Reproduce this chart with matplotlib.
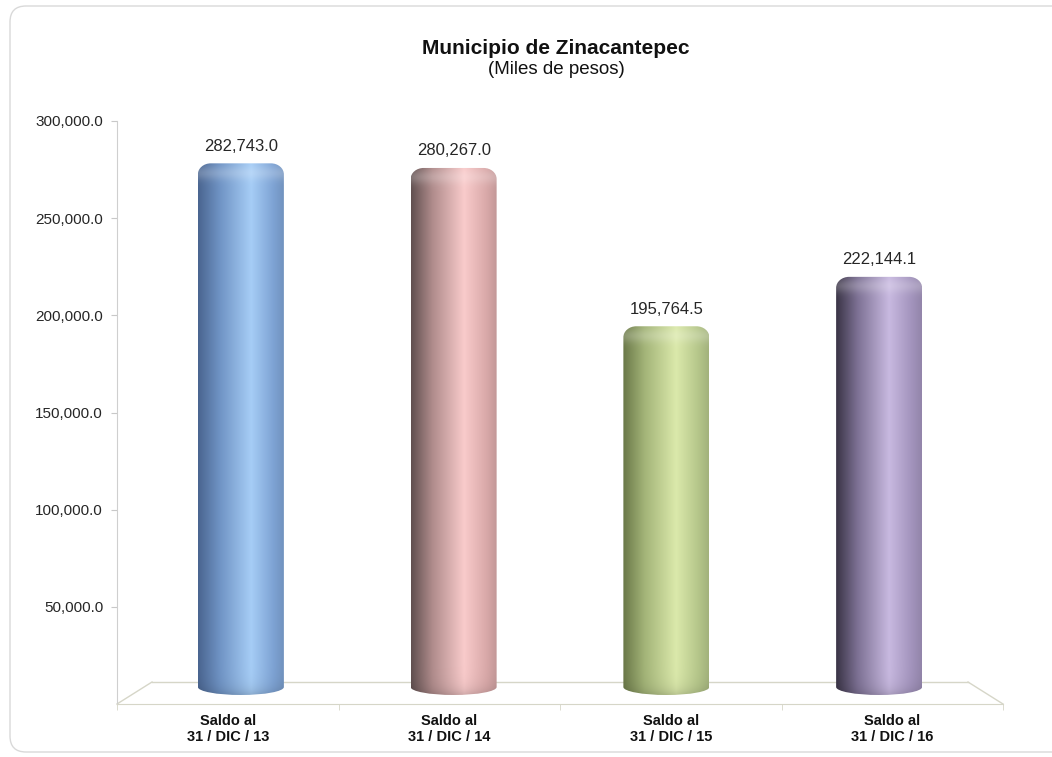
import numpy as np
import matplotlib
matplotlib.use("Agg")
from matplotlib import pyplot as plt
from matplotlib.patches import FancyBboxPatch, PathPatch
from matplotlib.path import Path
from matplotlib.lines import Line2D
from matplotlib.transforms import ScaledTranslation, IdentityTransform

plt.rcParams["font.family"] = ["Liberation Sans", "DejaVu Sans"]

# --- data ---
categories = ["Saldo al\n31 / DIC / 13", "Saldo al\n31 / DIC / 14",
              "Saldo al\n31 / DIC / 15", "Saldo al\n31 / DIC / 16"]
values = [282743.0, 280267.0, 195764.5, 222144.1]
yticks = [50000, 100000, 150000, 200000, 250000, 300000]

# (shadow edge, mid, highlight, right side) per cylinder
bar_colors = [
    ("#4a6590", "#6f93c4", "#a6cdf6", "#7ea3d4"),
    ("#615050", "#b08c8c", "#f9cbcb", "#d9a9a9"),
    ("#6a7848", "#a3b478", "#dbe9ab", "#b5c68a"),
    ("#3a3446", "#7d7194", "#c8b9e0", "#a394bd"),
]

W, H = 1052, 757
fig = plt.figure(figsize=(W / 100, H / 100), dpi=100)

# outer rounded frame
frame = FancyBboxPatch((10, 5), W + 20, H - 11, boxstyle="round,pad=0,rounding_size=16",
                       transform=IdentityTransform(), facecolor="none",
                       edgecolor="#d9d9d9", linewidth=1.0, zorder=-1)
fig.patches.append(frame)


def px(x0, y0, x1, y1):
    # pixel box (image coords, y down) -> figure fraction rect
    return [x0 / W, (H - y1) / H, (x1 - x0) / W, (y1 - y0) / H]


# front plane: axis, floor edge, labels
ax = fig.add_axes(px(117, 121, 1003, 704))
ax.set_facecolor("none")
ax.set_xlim(-0.5, len(values) - 0.5)
ax.set_ylim(0, 300000)
for s in ("top", "right"):
    ax.spines[s].set_visible(False)
ax.spines["left"].set_color("#cfcfcf")
ax.spines["bottom"].set_color("#d6d6c8")
ax.set_yticks(yticks)
ax.set_yticklabels([f"{v:,.1f}" for v in yticks], fontsize=11, color="#262626")
ax.tick_params(axis="y", length=4, color="#c8c8c8", pad=6)
ax.set_xticks(range(len(values)))
ax.set_xticklabels(categories, fontsize=10.5, fontweight="bold", color="#111111",
                   linespacing=1.2)
ax.tick_params(axis="x", length=0, pad=7)
ax.set_xticks(np.arange(-0.5, len(values)), minor=True)
ax.tick_params(axis="x", which="minor", length=4, color="#d6d6c8")

# 3D floor outline
dx, dy = 35 / 100, 22 / 100
back_l = ax.transAxes + ScaledTranslation(dx, dy, fig.dpi_scale_trans)
back_r = ax.transAxes + ScaledTranslation(-dx, dy, fig.dpi_scale_trans)
floor_c = "#d6d6c8"
for tr, xa in ((back_l, 0), (back_r, 1)):
    p0 = ax.transAxes.transform((xa, 0))
    p1 = tr.transform((xa, 0))
    fig.add_artist(Line2D([p0[0], p1[0]], [p0[1], p1[1]], transform=IdentityTransform(),
                          color=floor_c, lw=1.0, zorder=-0.5))
pa = back_l.transform((0, 0))
pb = back_r.transform((1, 0))
fig.add_artist(Line2D([pa[0], pb[0]], [pa[1], pb[1]], transform=IdentityTransform(),
                      color=floor_c, lw=1.0, zorder=-0.5))

# mid-depth plane: cylinders
ax2 = fig.add_axes(px(134.5, 131, 985.5, 693))
ax2.set_zorder(2)
ax2.set_xlim(-0.5, len(values) - 0.5)
ax2.set_ylim(0, 300000)
ax2.axis("off")

ux = 851 / len(values)          # px per x unit
uy = 562 / 300000               # px per y unit
bw = 86 / ux                    # bar width in data
rx_t, ry_t = 13 / ux, 11 / uy   # top corner rounding
b0 = 6 / uy                     # where the straight sides end
ry_b = 8 / uy                   # bottom ellipse depth
k = 0.5523


def cylinder_path(xc, top):
    x0, x1 = xc - bw / 2, xc + bw / 2
    h = bw / 2
    verts = [
        (x0, b0),
        (x0, top - ry_t),
        (x0, top - ry_t + k * ry_t), (x0 + rx_t - k * rx_t, top), (x0 + rx_t, top),
        (x1 - rx_t, top),
        (x1 - rx_t + k * rx_t, top), (x1, top - ry_t + k * ry_t), (x1, top - ry_t),
        (x1, b0),
        (x1, b0 - k * ry_b), (xc + k * h, b0 - ry_b), (xc, b0 - ry_b),
        (xc - k * h, b0 - ry_b), (x0, b0 - k * ry_b), (x0, b0),
        (x0, b0),
    ]
    codes = [Path.MOVETO, Path.LINETO,
             Path.CURVE4, Path.CURVE4, Path.CURVE4,
             Path.LINETO,
             Path.CURVE4, Path.CURVE4, Path.CURVE4,
             Path.LINETO,
             Path.CURVE4, Path.CURVE4, Path.CURVE4,
             Path.CURVE4, Path.CURVE4, Path.CURVE4,
             Path.CLOSEPOLY]
    return Path(verts, codes)


def hex2rgb(c):
    return np.array([int(c[i:i + 2], 16) for i in (1, 3, 5)]) / 255.0


def shade(cols, top, bottom):
    dark, mid, light, right = [hex2rgb(c) for c in cols]
    stops = [0.0, 0.25, 0.62, 0.88, 1.0]
    cs = [dark, mid, light, right, right * 0.9]
    nx, ny = 120, 300
    t = np.linspace(0, 1, nx)
    row = np.stack([np.interp(t, stops, [c[i] for c in cs]) for i in range(3)], axis=1)
    img = np.repeat(row[None, :, :], ny, axis=0)
    # light band under the top edge, slightly darker bottom
    ys = np.linspace(top, bottom, ny)
    dist_top = (top - ys) * uy
    band = np.exp(-((dist_top - 9) / 7) ** 2) * 0.2
    img = img + (1 - img) * band[:, None, None]
    dist_bot = (ys - bottom) * uy
    img = img * (1 - 0.15 * np.exp(-dist_bot / 7))[:, None, None]
    return np.clip(img, 0, 1)


for i, (v, cols) in enumerate(zip(values, bar_colors)):
    path = cylinder_path(i, v)
    patch = PathPatch(path, facecolor="none", edgecolor="none", clip_on=False)
    ax2.add_patch(patch)
    lo = b0 - ry_b
    im = ax2.imshow(shade(cols, v, lo), extent=[i - bw / 2, i + bw / 2, lo, v],
                    aspect="auto", interpolation="bilinear", zorder=2)
    im.set_clip_box(fig.bbox)
    im.set_clip_path(patch)
    ax2.annotate(f"{v:,.1f}", (i, v), xytext=(0, 17), textcoords="offset pixels",
                 ha="center", va="center", fontsize=12, color="#262626")

ax2.set_xlim(-0.5, len(values) - 0.5)
ax2.set_ylim(0, 300000)

fig.text(556 / W, 1 - 48 / H, "Municipio de Zinacantepec", ha="center", va="center",
         fontsize=15, fontweight="bold", color="#111111")
fig.text(556 / W, 1 - 70 / H, "(Miles de pesos)", ha="center", va="center",
         fontsize=13.5, color="#111111")

fig.savefig("out.png", dpi=100)
